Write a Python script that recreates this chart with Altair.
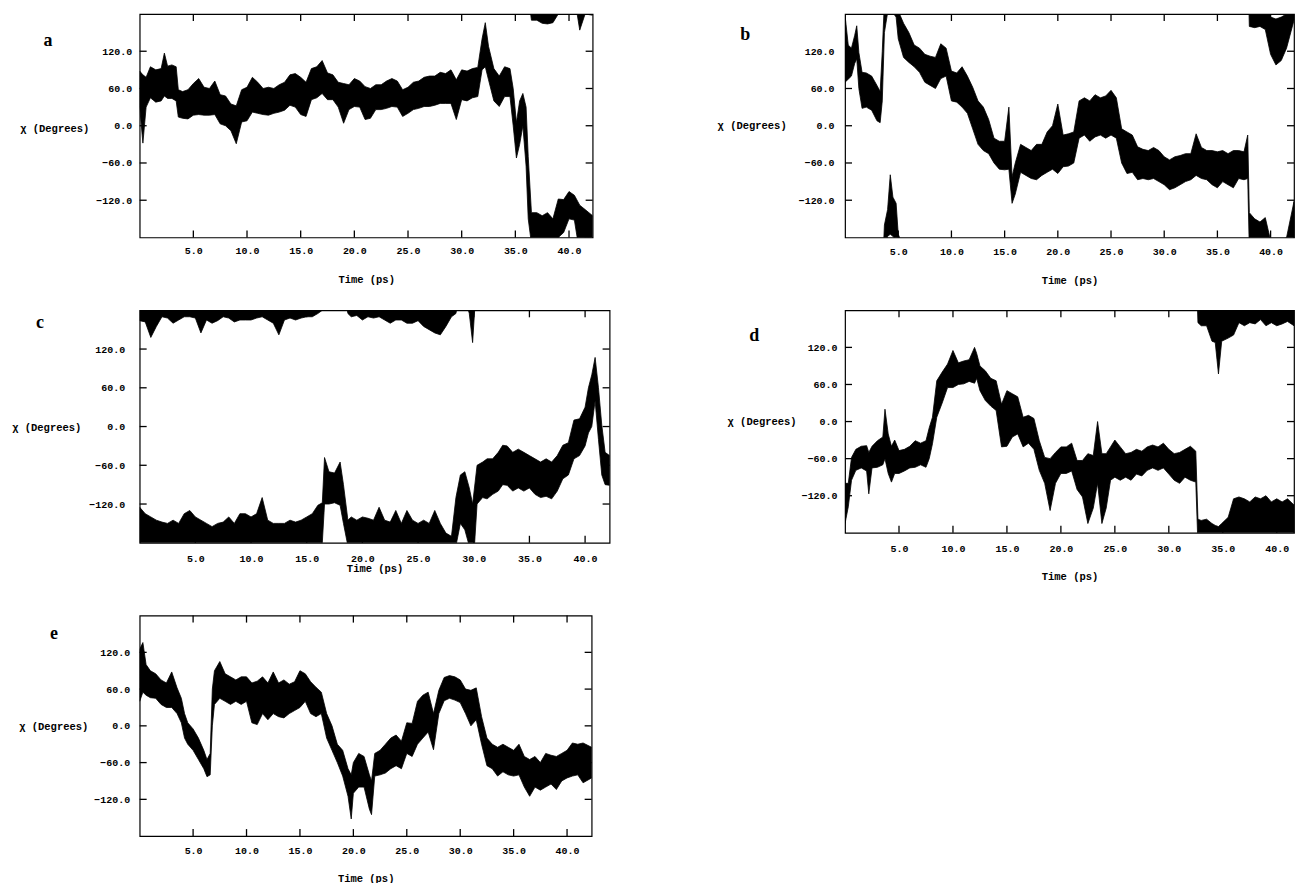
import altair as alt
import pandas as pd

# ---- shared axis settings -------------------------------------------------
X_TICKS = [5, 10, 15, 20, 25, 30, 35, 40]
Y_TICKS = [-120, -60, 0, 60, 120]
FONT = "Liberation Mono"
LETTER_FONT = "Liberation Serif"

# ---- dihedral traces: time (ps), lower / upper edge of the trace (deg, unwrapped)
a_t = [0, 0.3, 0.6, 1.0, 1.5, 2.0, 2.3, 2.6, 3.0, 3.4, 3.6, 4.0, 4.5, 5.0, 5.5, 6.0, 6.5, 7.0,
       7.5, 8.0, 8.5, 9.0, 9.5, 10.0, 10.5, 11.0, 11.5, 12.0, 12.5, 13.0, 13.5, 14.0, 14.5,
       15.0, 15.5, 16.0, 16.5, 17.0, 17.5, 18.0, 18.5, 19.0, 19.5, 20.0, 20.5, 21.0, 21.5,
       22.0, 22.5, 23.0, 23.5, 24.0, 24.5, 25.0, 25.5, 26.0, 26.5, 27.0, 27.5, 28.0, 28.5,
       29.0, 29.5, 30.0, 30.5, 31.0, 31.5, 31.9, 32.2, 32.5, 33.0, 33.5, 34.0, 34.5, 34.8,
       35.1, 35.4, 35.7, 36.0, 36.2, 36.5, 37.0, 37.5, 38.0, 38.5, 39.0, 39.5, 40.0, 40.5,
       41.0, 41.5, 42.2]
a_lo = [30, -28, 30, 45, 38, 40, 48, 44, 44, 40, 14, 12, 11, 17, 18, 17, 17, 18,
        3, 0, -8, -29, 6, 8, 22, 20, 18, 17, 20, 22, 25, 33, 30,
        18, 15, 42, 45, 52, 42, 42, 30, 4, 26, 31, 30, 10, 12,
        26, 26, 28, 31, 30, 15, 20, 26, 28, 31, 31, 33, 36, 36,
        36, 10, 42, 40, 45, 47, 90, 95, 74, 40, 31, 47, 47, 0,
        -52, -30, 0, -65, -150, -190, -190, -195, -196, -194, -180, -172, -150, -152,
        -206, -180, -182]
a_hi = [88, 82, 78, 95, 90, 92, 117, 96, 98, 95, 58, 55, 58, 68, 76, 62, 60, 72,
        50, 48, 35, 32, 58, 62, 78, 70, 60, 62, 60, 66, 70, 82, 84,
        78, 70, 92, 95, 105, 85, 82, 70, 68, 66, 76, 72, 63, 60,
        66, 66, 72, 76, 72, 58, 62, 70, 72, 78, 80, 80, 86, 84,
        90, 74, 90, 88, 92, 94, 140, 166, 128, 92, 80, 95, 92, 60,
        5, 40, 52, 30, -50, -140, -140, -145, -140, -150, -118, -119, -106, -112,
        -128, -135, -145]

b_t = [0, 0.3, 0.6, 0.9, 1.1, 1.3, 1.6, 2.0, 2.5, 3.0, 3.3, 3.5, 3.7, 4.0, 4.25, 4.5, 4.8,
       5.0, 5.5, 6.0, 6.5, 7.0, 7.5, 8.0, 8.5, 9.0, 9.5, 10.0, 10.5, 11.0, 11.5, 12.0, 12.5,
       13.0, 13.5, 14.0, 14.5, 15.0, 15.4, 15.7, 16.0, 16.5, 17.0, 17.5, 18.0, 18.5, 19.0,
       19.5, 20.0, 20.5, 21.0, 21.5, 22.0, 22.5, 23.0, 23.5, 24.0, 24.5, 25.0, 25.5, 26.0,
       26.5, 27.0, 27.5, 28.0, 28.5, 29.0, 29.5, 30.0, 30.5, 31.0, 31.5, 32.0, 32.5, 33.0,
       33.5, 34.0, 34.5, 35.0, 35.5, 36.0, 36.5, 37.0, 37.5, 37.85, 38.0, 38.5, 39.0, 39.5,
       40.0, 40.5, 41.0, 41.5, 42.2]
b_lo = [70, 75, 80, 100, 108, 60, 28, 30, 25, 8, 5, 40, 150, 182, 185, 182, 175,
        140, 110, 102, 95, 86, 70, 65, 60, 76, 80, 40, 38, 30, 20, -5, -30,
        -40, -45, -60, -70, -71, -70, -125, -110, -75, -80, -85, -87, -80, -75,
        -70, -77, -66, -65, -60, -20, -15, -25, -18, -15, -20, -15, -20, -60,
        -77, -75, -87, -85, -87, -85, -90, -95, -103, -100, -95, -90, -87, -80,
        -85, -87, -95, -100, -90, -95, -100, -85, -87, -85, -200, -202, -200, -205,
        -245, -262, -255, -235, -190]
b_hi = [178, 130, 125, 145, 161, 118, 86, 85, 80, 65, 55, 120, 200, 225, 281, 245, 235,
        185, 165, 150, 130, 125, 115, 112, 110, 132, 125, 88, 85, 95, 80, 62, 40,
        30, 10, -20, -25, -25, 30, -82, -60, -30, -35, -40, -30, -30, -10,
        0, 35, -15, -13, -10, 40, 45, 40, 50, 45, 48, 57, 45, -5,
        -10, -15, -34, -38, -40, -35, -40, -50, -55, -50, -48, -45, -45, -13,
        -35, -40, -40, -42, -40, -45, -40, -40, -42, -15, -140, -150, -155, -148,
        -185, -188, -185, -180, -122]

c_t = [0, 0.5, 1.0, 1.5, 2.0, 2.5, 3.0, 3.5, 4.0, 4.5, 5.0, 5.5, 6.0, 6.5, 7.0, 7.5, 8.0,
       8.5, 9.0, 9.5, 10.0, 10.5, 11.0, 11.5, 12.0, 12.5, 13.0, 13.5, 14.0, 14.5, 15.0, 15.5,
       16.0, 16.4, 16.6, 17.0, 17.5, 18.0, 18.3, 18.7, 19.0, 19.5, 20.0, 20.5, 21.0, 21.5,
       22.0, 22.5, 23.0, 23.5, 24.0, 24.5, 25.0, 25.5, 26.0, 26.5, 27.0, 27.5, 28.0, 28.4,
       28.8, 29.2, 29.6, 29.9, 30.3, 30.8, 31.2, 31.7, 32.2, 32.6, 33.0, 33.5, 34.0, 34.5,
       35.0, 35.5, 36.0, 36.5, 37.0, 37.5, 38.0, 38.5, 39.0, 39.5, 40.0, 40.3, 40.6, 40.9,
       41.2, 41.5, 41.8, 42.2]
c_lo = [-196, -198, -222, -205, -190, -192, -200, -195, -190, -190, -192, -215, -195, -200,
        -196, -190, -192, -198, -195, -195, -195, -192, -190, -195, -200, -218, -195, -192,
        -195, -192, -190, -190, -185, -180, -120, -120, -118, -122, -150, -185, -190, -188,
        -195, -190, -192, -190, -195, -200, -195, -195, -200, -200, -196, -205, -210, -215,
        -218, -205, -190, -185, -150, -160, -185, -230, -120, -110, -112, -105, -100, -90,
        -91, -100, -95, -100, -95, -105, -110, -108, -112, -100, -81, -75, -50, -45, -30,
        -10, 0, 40, -20, -75, -90, -91]
c_hi = [-125, -135, -140, -145, -148, -150, -145, -150, -135, -130, -140, -145, -150, -155,
        -150, -148, -140, -150, -135, -135, -140, -135, -110, -145, -150, -150, -150, -145,
        -148, -145, -140, -135, -122, -118, -48, -70, -72, -55, -90, -145, -140, -145,
        -140, -142, -145, -125, -145, -148, -130, -150, -130, -145, -150, -145, -150, -130,
        -150, -165, -170, -110, -75, -70, -95, -120, -60, -55, -50, -50, -40, -29,
        -30, -40, -35, -40, -45, -50, -55, -50, -55, -45, -29, -25, 10, 12, 30,
        60, 80, 107, 60, 2, -40, -45]

d_t = [0, 0.3, 0.6, 1.0, 1.5, 2.0, 2.2, 2.5, 3.0, 3.5, 3.7, 4.0, 4.3, 4.6, 5.0, 5.5, 6.0,
       6.5, 7.0, 7.5, 7.8, 8.1, 8.5, 9.0, 9.5, 10.0, 10.5, 11.0, 11.5, 12.0, 12.2, 12.5,
       13.0, 13.5, 14.0, 14.5, 15.0, 15.5, 16.0, 16.5, 17.0, 17.5, 18.0, 18.5, 19.0, 19.5,
       20.0, 20.5, 21.0, 21.5, 22.0, 22.5, 23.0, 23.4, 23.8, 24.2, 24.6, 25.0, 25.5, 26.0,
       26.5, 27.0, 27.5, 28.0, 28.5, 29.0, 29.5, 30.0, 30.5, 31.0, 31.5, 32.0, 32.5, 32.7,
       33.0, 33.5, 34.0, 34.3, 34.6, 34.9, 35.5, 36.0, 36.5, 37.0, 37.5, 38.0, 38.5, 39.0,
       39.5, 40.0, 40.5, 41.0, 41.6]
d_lo = [-165, -138, -95, -79, -75, -80, -117, -75, -74, -70, -60, -84, -98, -84, -84, -80,
        -75, -74, -70, -74, -60, -36, 7, 30, 55, 55, 60, 61, 65, 62, 70, 50,
        34, 25, 18, -41, -40, -25, -20, -41, -35, -45, -79, -100, -144, -100,
        -84, -84, -80, -110, -122, -165, -140, -100, -165, -140, -95, -90, -95, -90,
        -95, -85, -88, -79, -75, -79, -75, -85, -95, -100, -90, -95, -98, -200,
        -205, -205, -230, -232, -283, -230, -225, -220, -200, -205, -200, -202, -195, -205,
        -200, -205, -202, -198, -205]
d_hi = [-100, -100, -58, -45, -40, -39, -50, -40, -31, -25, 20, -20, -40, -30, -47, -45,
        -40, -31, -35, -31, -10, 7, 66, 80, 93, 115, 95, 98, 100, 120, 110, 90,
        82, 70, 66, 28, 50, 45, 40, 7, 10, 5, -31, -58, -60, -50,
        -41, -41, -35, -63, -63, -52, -55, 0, -52, -52, -41, -30, -41, -52,
        -50, -45, -48, -41, -38, -41, -35, -45, -52, -50, -45, -40, -48, -158,
        -160, -158, -165, -168, -170, -165, -155, -125, -122, -125, -130, -122, -125, -120,
        -130, -125, -130, -125, -135]

e_t = [0, 0.3, 0.6, 1.0, 1.5, 2.0, 2.5, 3.0, 3.5, 3.9, 4.2, 4.5, 5.0, 5.5, 6.0, 6.3, 6.6,
       6.8, 7.0, 7.5, 8.0, 8.5, 9.0, 9.5, 10.0, 10.5, 11.0, 11.5, 12.0, 12.5, 13.0, 13.5,
       14.0, 14.5, 15.0, 15.5, 16.0, 16.5, 17.0, 17.5, 18.0, 18.5, 19.0, 19.5, 19.8, 20.0,
       20.5, 21.0, 21.5, 21.7, 22.0, 22.5, 23.0, 23.5, 24.0, 24.5, 25.0, 25.5, 26.0, 26.5,
       27.0, 27.5, 28.0, 28.5, 29.0, 29.5, 30.0, 30.5, 31.0, 31.5, 32.0, 32.5, 33.0, 33.5,
       34.0, 34.5, 35.0, 35.5, 36.0, 36.5, 37.0, 37.5, 38.0, 38.5, 39.0, 39.5, 40.0, 40.5,
       41.0, 41.5, 42.3]
e_lo = [40, 55, 50, 46, 45, 35, 30, 30, 20, 5, -20, -30, -40, -55, -70, -83, -80,
        0, 35, 45, 40, 35, 40, 35, 40, 5, 2, 20, 10, 20, 15, 13,
        20, 25, 30, 40, 20, 15, 20, -20, -40, -60, -82, -115, -152, -110,
        -100, -100, -136, -145, -82, -80, -77, -70, -65, -70, -45, -50, -30, -20,
        -10, -39, 20, 41, 45, 42, 38, 20, 0, 10, -30, -65, -70, -82,
        -75, -80, -82, -80, -100, -115, -100, -105, -100, -95, -104, -90, -85, -82,
        -80, -93, -85]
e_hi = [125, 136, 100, 90, 85, 75, 70, 88, 62, 45, 20, 5, -5, -20, -40, -55, -45,
        60, 90, 105, 85, 80, 75, 80, 80, 70, 73, 80, 70, 88, 70, 75,
        68, 72, 90, 85, 72, 63, 55, 20, 0, -30, -40, -70, -80, -60,
        -45, -50, -80, -90, -45, -40, -30, -20, -15, -25, 5, 4, 40, 50,
        55, 20, 58, 79, 82, 80, 75, 60, 58, 62, 15, -20, -30, -35,
        -30, -35, -40, -30, -50, -55, -50, -60, -45, -48, -50, -45, -40, -28,
        -30, -28, -35]

TICK_LEN = 7


def panel(letter, t, lo, hi, width, height, tmax, xlab_pad, xtitle_y,
          ylab_pad, ytitle_x, ytitle_y, letter_x, letter_y):
    df = pd.DataFrame({"t": t, "lo": lo, "hi": hi})
    xscale = alt.Scale(domain=[0, tmax], nice=False, zero=False)
    yscale = alt.Scale(domain=[-180, 180], nice=False, zero=False)
    common = dict(format=".1f", ticks=False, domain=False, grid=False,
                  labelFont=FONT, labelFontSize=10, labelFontWeight="bold",
                  labelColor="black", titleFont=FONT, titleFontSize=10.5,
                  titleFontWeight="bold", titleColor="black", labelFlush=False)
    xaxis = alt.Axis(values=X_TICKS, orient="bottom", labelPadding=xlab_pad,
                     title="Time (ps)", titleY=xtitle_y, titleBaseline="middle", **common)
    yaxis = alt.Axis(values=Y_TICKS, orient="left", labelPadding=ylab_pad,
                     title="χ (Degrees)", titleAngle=0, titleAlign="right",
                     titleBaseline="middle", titleX=ytitle_x, titleY=ytitle_y, **common)

    layers = []
    # the angle is periodic: draw the band and its copies shifted by one turn,
    # each clipped to the [-180, 180] window; only the first copy carries the axes
    for k, shift in enumerate((0, 360, -360)):
        band = (
            alt.Chart(df)
            .transform_calculate(lo_s=f"datum.lo + ({shift})", hi_s=f"datum.hi + ({shift})")
            .mark_area(color="black", clip=True, stroke="black", strokeWidth=0.8)
            .encode(
                x=alt.X("t:Q", scale=xscale, axis=xaxis if k == 0 else None),
                y=alt.Y("lo_s:Q", scale=yscale, axis=yaxis if k == 0 else None),
                y2="hi_s:Q",
            )
        )
        layers.append(band)

    # short inward tick segments on the four sides of the frame
    xt = pd.DataFrame({"xtick": X_TICKS})
    yt = pd.DataFrame({"ytick": Y_TICKS})
    xv = alt.X("xtick:Q", scale=xscale, axis=None)
    yv = alt.Y("ytick:Q", scale=yscale, axis=None)
    rule = dict(color="black", strokeWidth=1.3, opacity=1)
    layers += [
        alt.Chart(xt).mark_rule(**rule).encode(x=xv, y=alt.value(height), y2=alt.value(height - TICK_LEN)),
        alt.Chart(xt).mark_rule(**rule).encode(x=xv, y=alt.value(0), y2=alt.value(TICK_LEN)),
        alt.Chart(yt).mark_rule(**rule).encode(y=yv, x=alt.value(0), x2=alt.value(TICK_LEN)),
        alt.Chart(yt).mark_rule(**rule).encode(y=yv, x=alt.value(width), x2=alt.value(width - TICK_LEN)),
    ]

    # panel letter
    layers.append(
        alt.Chart(pd.DataFrame({"s": [letter]}))
        .mark_text(font=LETTER_FONT, fontSize=18, fontWeight="bold", color="black")
        .encode(text="s:N", x=alt.value(letter_x), y=alt.value(letter_y))
    )
    # scales stay shared; axes are kept per layer so the label-less layers
    # do not switch off the labelled one
    return (
        alt.layer(*layers)
        .resolve_axis(x="independent", y="independent")
        .properties(width=width, height=height)
    )


pa = panel("a", a_t, a_lo, a_hi, 454, 224, 42.2, 8, 42.5, 8, -51, 115, -92, 27)
pb = panel("b", b_t, b_lo, b_hi, 450, 224, 42.2, 9, 43, 11, -59, 112, -100, 21)
pc = panel("c", c_t, c_lo, c_hi, 471, 233, 42.2, 11, 26, 15, -59, 117, -100, 13)
pd_ = panel("d", d_t, d_lo, d_hi, 450, 223, 41.6, 11, 44, 8, -49, 111, -91, 26)
pe = panel("e", e_t, e_lo, e_hi, 453, 221, 42.3, 9, 43, 10, -52, 111, -86, 18)

# grid of plot areas; only the plot sizes take part in the layout
chart = (
    alt.concat(pa, pb, pc, pd_, pe, columns=2, align="each", bounds="flush",
               spacing={"row": 73, "column": 236})
    .properties(padding={"left": 11, "top": 11, "right": 0, "bottom": 0},
                background="white")
    .configure_view(stroke="black", strokeWidth=1.2)
)

chart.save("out.html", embed_options={"renderer": "svg", "actions": False})
